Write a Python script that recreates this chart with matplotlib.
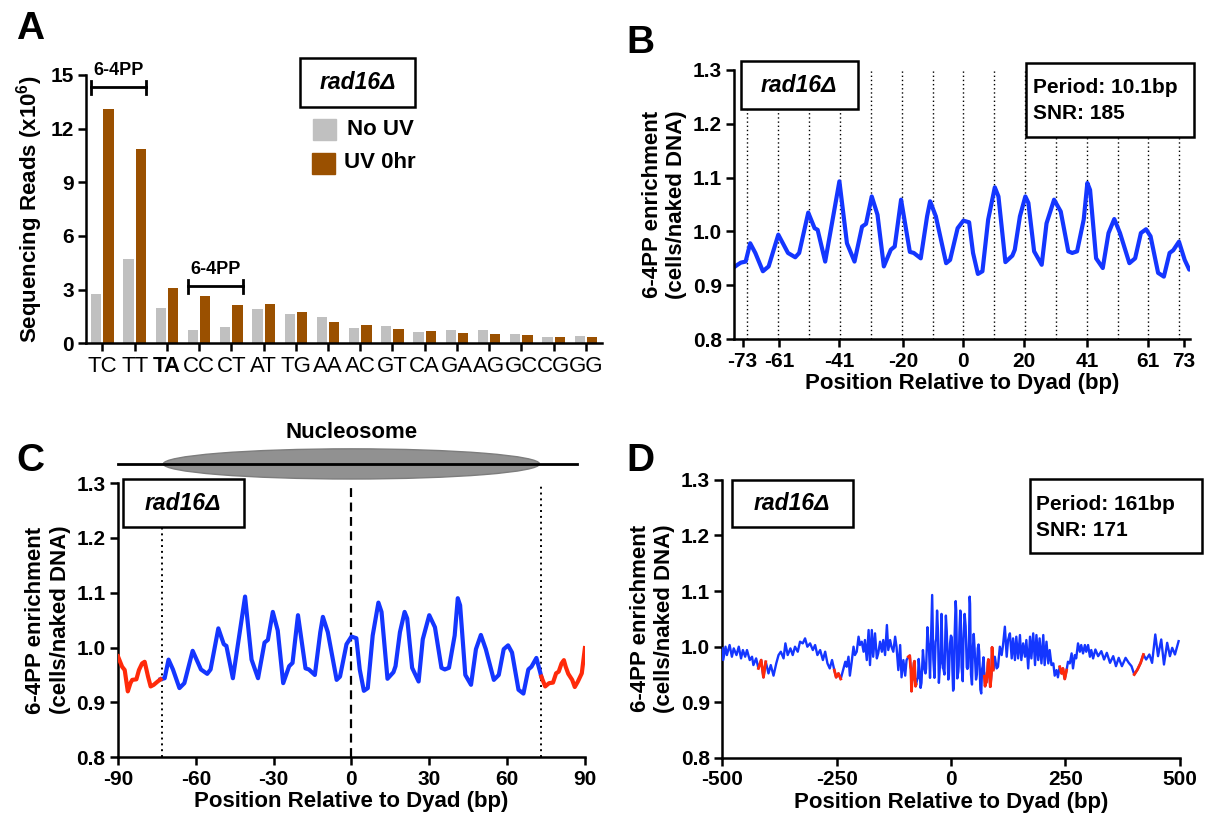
import numpy as np
import matplotlib.pyplot as plt
from matplotlib.patches import Ellipse, Rectangle

plt.rcParams['font.family'] = ['Liberation Sans', 'DejaVu Sans']
plt.rcParams['font.weight'] = 'bold'
plt.rcParams['axes.labelweight'] = 'bold'
plt.rcParams['axes.unicode_minus'] = False
plt.rcParams['mathtext.fontset'] = 'custom'
plt.rcParams['mathtext.bf'] = 'Liberation Sans:bold'
plt.rcParams['mathtext.default'] = 'bf'

# --- panel A: reads per dinucleotide (x10^6) ---
dinucs = ['TC', 'TT', 'TA', 'CC', 'CT', 'AT', 'TG', 'AA', 'AC', 'GT', 'CA', 'GA', 'AG', 'GC', 'CG', 'GG']
no_uv = [2.77, 4.73, 1.98, 0.71, 0.90, 1.89, 1.63, 1.46, 0.86, 0.95, 0.64, 0.71, 0.71, 0.50, 0.34, 0.41]
uv_0hr = [13.1, 10.84, 3.07, 2.65, 2.13, 2.17, 1.72, 1.21, 0.99, 0.79, 0.67, 0.58, 0.54, 0.43, 0.34, 0.32]

# --- panels B/C: enrichment around the dyad ---
dyad_bp = [-90, -88.4, -87.4, -86.2, -85.2, -84.5, -82.9, -81.9, -80.7, -79.7, -78.4, -77.4, -76.2, -74.7, -73.6,
           -72, -70.5, -68.8, -66.3, -64.4, -61.2, -58, -55.6, -54.3, -51.3, -49.2, -48.2, -45.7, -41, -38.5,
           -36, -33.5, -32.2, -30.3, -28.4, -26.3, -24, -22.7, -20.6, -17.7, -16.4, -14.1, -12, -11, -9.1,
           -5.7, -4.4, -1.9, 0, 1.9, 3.2, 4.8, 6.3, 8.2, 10.4, 11.6, 13.9, 16.2, 17, 18.7, 20.5, 21.5, 23.4,
           25.9, 27.5, 30, 32.2, 34.7, 36, 37.6, 39.8, 41, 41.9, 43.9, 46.1, 48, 49.9, 51.8, 54.9, 56.8, 58.7,
           60.4, 61.9, 64.4, 66.3, 68.2, 69.4, 71.3, 73.2, 74.7, 76.2, 77.7, 78.9, 79.9, 81, 81.9, 82.6, 83.6,
           85.1, 86.1, 87.3, 88.8, 90]
dyad_val = [0.984, 0.965, 0.959, 0.920, 0.935, 0.941, 0.942, 0.959, 0.971, 0.974, 0.947, 0.929, 0.932, 0.938, 0.942,
            0.944, 0.978, 0.960, 0.926, 0.935, 0.994, 0.960, 0.952, 0.960, 1.035, 1.006, 1.003, 0.944, 1.093, 0.978,
            0.944, 1.009, 1.014, 1.065, 1.031, 0.935, 0.966, 0.972, 1.059, 0.962, 0.960, 0.950, 1.028, 1.056, 1.028,
            0.941, 0.947, 1.006, 1.020, 1.017, 0.960, 0.921, 0.926, 1.022, 1.082, 1.065, 0.943, 0.955, 0.966, 1.028,
            1.065, 1.053, 0.963, 0.938, 1.015, 1.059, 1.037, 0.963, 0.960, 0.963, 1.022, 1.090, 1.077, 0.950, 0.932,
            0.997, 1.023, 0.997, 0.941, 0.950, 0.997, 1.004, 0.991, 0.923, 0.916, 0.960, 0.965, 0.981, 0.947, 0.929,
            0.935, 0.936, 0.953, 0.956, 0.971, 0.977, 0.965, 0.952, 0.941, 0.928, 0.938, 0.953, 0.999]
core_edge = 73.3

# --- panel D: wider flanks ---
left_bp = [-500, -498, -493, -490, -484, -479, -475, -469, -464, -459, -455, -450, -446, -440, -435, -432, -426,
           -421, -415, -410, -405, -399, -394, -388, -382, -377, -372, -366, -362, -357, -351, -346, -341, -335,
           -330, -324, -319, -314, -308, -302, -297, -292, -286, -280, -275, -270, -265, -260, -255, -251, -246,
           -241, -235, -231, -228, -224, -221, -217, -213, -210, -206, -202, -199, -195, -191, -188, -184, -180,
           -177, -173, -170, -166, -162, -159, -155, -151, -148, -144, -140, -137, -133, -130, -126, -122, -119,
           -115, -111, -108, -104, -100, -97, -93]
left_val = [0.997, 0.976, 1.000, 0.985, 1.003, 0.982, 0.997, 0.985, 1.000, 0.979, 0.994, 0.982, 0.994, 0.976, 0.982,
            0.967, 0.979, 0.961, 0.976, 0.945, 0.973, 0.952, 0.967, 0.948, 0.970, 0.985, 0.991, 0.979, 1.006, 0.985,
            0.997, 0.985, 1.000, 0.991, 1.009, 1.006, 1.015, 1.000, 1.006, 0.994, 1.003, 0.985, 0.994, 0.976, 0.991,
            0.970, 0.961, 0.976, 0.958, 0.945, 0.952, 0.942, 0.961, 0.973, 0.964, 0.982, 0.948, 0.973, 1.000, 0.985,
            0.991, 1.018, 1.003, 1.009, 0.991, 1.012, 0.976, 1.030, 0.967, 1.030, 0.982, 1.024, 0.979, 0.988, 1.009,
            0.991, 1.012, 0.985, 1.039, 0.994, 1.012, 1.000, 0.991, 1.018, 1.000, 0.958, 1.003, 0.945, 0.976, 0.948,
            0.976, 0.982]
right_bp = [92.5, 96, 100, 103, 107, 111, 114, 118, 122, 125, 129, 133, 136, 140, 143, 147, 151, 154, 158, 162,
            165, 169, 173, 176, 180, 184, 187, 191, 194, 198, 202, 205, 209, 213, 216, 220, 224, 227, 231, 234,
            238, 242, 245, 249, 253, 256, 260, 264, 267, 271, 274, 278, 282, 285, 289, 293, 296, 300, 304, 307,
            311, 316, 322, 329, 335, 341, 348, 355, 361, 367, 374, 382, 389, 395, 401, 408, 415, 421, 427, 434,
            440, 447, 453, 460, 466, 473, 479, 484, 490, 498]
right_val = [0.958, 0.982, 0.961, 0.964, 1.000, 0.985, 1.003, 1.036, 0.982, 1.012, 1.024, 0.979, 1.015, 0.976, 1.018,
             0.979, 1.021, 0.976, 1.006, 0.982, 1.012, 0.961, 1.018, 0.979, 1.024, 0.967, 1.021, 0.976, 1.015, 0.970,
             1.021, 0.967, 1.009, 0.970, 0.994, 0.967, 0.970, 0.948, 0.958, 0.945, 0.964, 0.952, 0.961, 0.942, 0.958,
             0.973, 0.970, 0.988, 0.961, 0.985, 0.979, 1.006, 0.991, 1.003, 0.988, 1.003, 0.991, 1.003, 0.982, 0.994,
             0.979, 0.995, 0.983, 0.992, 0.977, 0.989, 0.971, 0.983, 0.965, 0.980, 0.965, 0.980, 0.971, 0.965, 0.950,
             0.959, 0.971, 0.986, 0.977, 0.986, 0.971, 1.022, 0.983, 1.013, 0.968, 1.007, 0.983, 0.998, 0.986, 1.010]
red_spans = [(-421, -405), (-255, -241), (-93, -75), (73, 92.5), (238, 253), (401, 421)]

BLUE = '#1436ff'
RED = '#ff2a0a'
LW_AX = 1.8
TICK_FS = 15
LAB_FS = 16
STRAIN = 'rad16Δ'


def style(ax, bold_ticks=True):
    for s in ['top', 'right']:
        ax.spines[s].set_visible(False)
    for s in ['left', 'bottom']:
        ax.spines[s].set_linewidth(LW_AX)
    ax.tick_params(width=LW_AX, length=6, labelsize=TICK_FS, pad=3)
    labels = ax.get_yticklabels() + (ax.get_xticklabels() if bold_ticks else [])
    for t in labels:
        t.set_fontweight('bold')


def boxed(ax, x0, y0, x1, y1):
    ax.add_patch(Rectangle((x0, y0), x1 - x0, y1 - y0, transform=ax.transAxes, fc='white',
                           ec='black', lw=1.8, clip_on=False, zorder=5))


fig = plt.figure(figsize=(12.16, 8.23), dpi=100)

# ---------------- A ----------------
axA = fig.add_axes([0.071, 0.583, 0.424, 0.326])
x = np.arange(len(dinucs))
axA.bar(x - 0.19, no_uv, 0.32, color='#c0c0c0')
axA.bar(x + 0.19, uv_0hr, 0.32, color='#9a5000')
axA.set_xlim(-0.5, 15.5)
axA.set_ylim(0, 15)
axA.set_yticks([0, 3, 6, 9, 12, 15])
axA.set_xticks(x)
axA.set_xticklabels(dinucs)
style(axA, bold_ticks=False)
for t in axA.get_xticklabels():
    t.set_fontweight('normal')
    t.set_fontsize(16)
axA.get_xticklabels()[2].set_fontweight('bold')
axA.set_ylabel('Sequencing Reads (x10$^{6}$)', fontsize=LAB_FS, labelpad=4)
for (i0, i1, yb, yt0) in [(0, 1, 14.3, 15.25), (3, 4, 3.18, 4.1)]:
    xa, xb = i0 - 0.35, i1 + 0.35
    axA.plot([xa, xb], [yb, yb], color='black', lw=2, clip_on=False)
    axA.plot([xa, xa], [yb - 0.35, yb + 0.35], color='black', lw=2, clip_on=False)
    axA.plot([xb, xb], [yb - 0.35, yb + 0.35], color='black', lw=2, clip_on=False)
    axA.text((xa + xb) / 2, yt0, '6-4PP', ha='center', va='center', fontsize=13)
boxed(axA, 0.415, 0.88, 0.638, 1.062)
axA.text(0.5265, 0.971, STRAIN, transform=axA.transAxes, ha='center', va='center',
         fontsize=16.5, style='italic', zorder=6)
axA.add_patch(Rectangle((0.44, 0.757), 0.045, 0.077, transform=axA.transAxes, color='#c0c0c0'))
axA.add_patch(Rectangle((0.438, 0.63), 0.045, 0.08, transform=axA.transAxes, color='#9a5000'))
axA.text(0.505, 0.796, 'No UV', transform=axA.transAxes, va='center', fontsize=16)
axA.text(0.5, 0.672, 'UV 0hr', transform=axA.transAxes, va='center', fontsize=16)

ylab = '6-4PP enrichment\n(cells/naked DNA)'
yt = [0.8, 0.9, 1.0, 1.1, 1.2, 1.3]
ytl = ['0.8', '0.9', '1.0', '1.1', '1.2', '1.3']

# ---------------- B ----------------
axB = fig.add_axes([0.604, 0.588, 0.375, 0.327])
axB.plot(dyad_bp, dyad_val, color=BLUE, lw=3)
for k in range(-7, 8):
    axB.axvline(k * 10.2, color='black', ls=(0, (1, 2)), lw=1, zorder=0)
axB.set_xlim(-75.7, 75.1)
axB.set_ylim(0.8, 1.3)
axB.set_yticks(yt)
axB.set_yticklabels(ytl)
axB.set_xticks([-73, -61, -41, -20, 0, 20, 41, 61, 73])
style(axB)
axB.set_ylabel(ylab, fontsize=LAB_FS, labelpad=4)
axB.set_xlabel('Position Relative to Dyad (bp)', fontsize=LAB_FS, labelpad=2)
boxed(axB, 0.015, 0.855, 0.27, 1.033)
axB.text(0.142, 0.944, STRAIN, transform=axB.transAxes, ha='center', va='center',
         fontsize=16.5, style='italic', zorder=6)
boxed(axB, 0.64, 0.75, 1.0085, 1.025)
axB.text(0.655, 0.887, 'Period: 10.1bp\nSNR: 185', transform=axB.transAxes, va='center',
         fontsize=15, linespacing=1.45, zorder=6)

# ---------------- C ----------------
axC = fig.add_axes([0.097, 0.080, 0.384, 0.333])
bp = np.array(dyad_bp)
val = np.array(dyad_val)
inner = np.abs(bp) <= core_edge + 0.5
axC.plot(bp[inner], val[inner], color=BLUE, lw=3, zorder=3)
axC.plot(bp[bp <= -core_edge], val[bp <= -core_edge], color=RED, lw=3, zorder=3)
axC.plot(bp[bp >= core_edge - 0.2], val[bp >= core_edge - 0.2], color=RED, lw=3, zorder=3)
axC.axvline(0, color='black', ls=(0, (4, 2.5)), lw=1.6, zorder=2)
axC.axvline(-73, color='black', ls=(0, (1, 2)), lw=1.4, zorder=2)
axC.axvline(73, color='black', ls=(0, (1, 2)), lw=1.4, zorder=2)
axC.set_xlim(-90, 90)
axC.set_ylim(0.8, 1.3)
axC.set_yticks(yt)
axC.set_yticklabels(ytl)
axC.set_xticks([-90, -60, -30, 0, 30, 60, 90])
style(axC)
axC.set_ylabel(ylab, fontsize=LAB_FS, labelpad=4)
axC.set_xlabel('Position Relative to Dyad (bp)', fontsize=LAB_FS, labelpad=2)
axC.add_patch(Ellipse((0, 1.335), 145, 0.055, fc='#919191', ec='#7d7d7d', lw=1, clip_on=False, zorder=4))
axC.plot([-89.8, 86.9], [1.335, 1.335], color='black', lw=2, clip_on=False, zorder=5)
axC.text(0, 1.393, 'Nucleosome', ha='center', va='center', fontsize=16)
boxed(axC, 0.011, 0.838, 0.27, 1.016)
axC.text(0.14, 0.927, STRAIN, transform=axC.transAxes, ha='center', va='center',
         fontsize=16.5, style='italic', zorder=6)

# ---------------- D ----------------
axD = fig.add_axes([0.594, 0.079, 0.376, 0.338])
d_bp = np.array(left_bp + dyad_bp + right_bp)
d_val = np.array(left_val + dyad_val + right_val)
axD.plot(d_bp, d_val, color=BLUE, lw=1.7, zorder=3)
for lo, hi in red_spans:
    m = (d_bp >= lo) & (d_bp <= hi)
    axD.plot(d_bp[m], d_val[m], color=RED, lw=2.0, zorder=4)
axD.set_xlim(-500, 500)
axD.set_ylim(0.8, 1.3)
axD.set_yticks(yt)
axD.set_yticklabels(ytl)
axD.set_xticks([-500, -250, 0, 250, 500])
style(axD)
axD.set_ylabel(ylab, fontsize=LAB_FS, labelpad=4)
axD.set_xlabel('Position Relative to Dyad (bp)', fontsize=LAB_FS, labelpad=2)
boxed(axD, 0.021, 0.83, 0.285, 1.0)
axD.text(0.153, 0.915, STRAIN, transform=axD.transAxes, ha='center', va='center',
         fontsize=16.5, style='italic', zorder=6)
boxed(axD, 0.672, 0.736, 1.05, 1.0036)
axD.text(0.687, 0.865, 'Period: 161bp\nSNR: 171', transform=axD.transAxes, va='center',
         fontsize=15, linespacing=1.45, zorder=6)

for lbl, (fx, fy) in zip('ABCD', [(0.025, 0.965), (0.527, 0.948), (0.025, 0.44), (0.527, 0.44)]):
    fig.text(fx, fy, lbl, fontsize=28, ha='center', va='center')

fig.savefig('out.png', dpi=100)
